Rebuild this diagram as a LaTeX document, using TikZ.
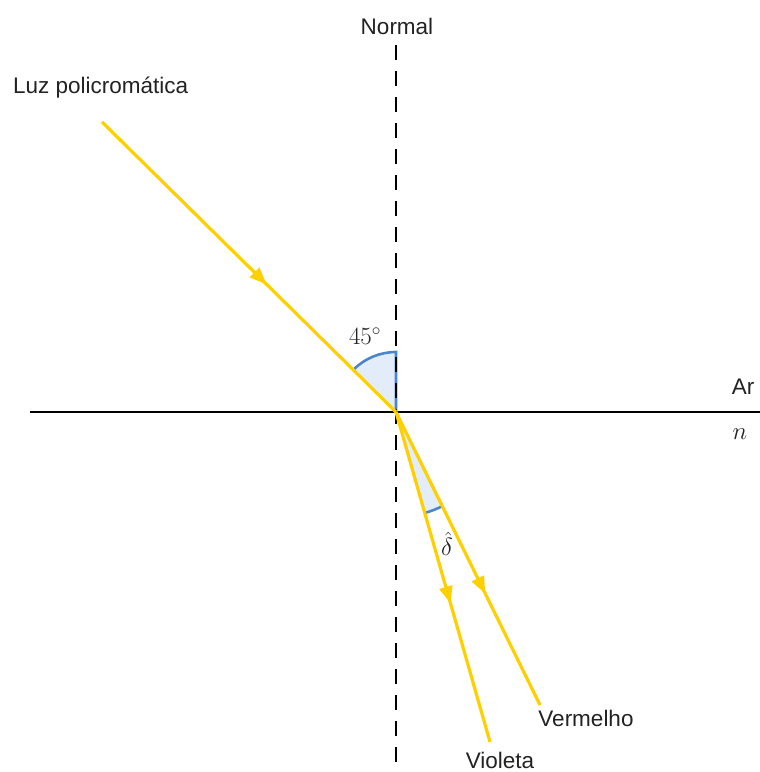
\documentclass[tikz,border=0pt]{standalone}
\usepackage{fontspec}
\setmainfont{Liberation Sans}
\usetikzlibrary{arrows.meta,decorations.markings}
\definecolor{ray}{HTML}{FFD000}
\definecolor{arcblue}{HTML}{4A86CF}
\definecolor{arcfill}{HTML}{E3EDF9}
\definecolor{txt}{HTML}{222222}
\tikzset{
  lbl/.style={font=\fontsize{22.5}{26}\selectfont, inner sep=0pt, text=txt},
  mlbl/.style={font=\fontsize{25}{28}\selectfont, inner sep=0pt, text=txt},
  raypath/.style={draw=ray, line width=3.2pt},
  midarrow/.style={postaction={decorate}, decoration={markings,
      mark=at position #1 with {\arrow{Triangle[length=17pt,width=13pt,fill=ray,color=ray]}}}},
}
\begin{document}
\begin{tikzpicture}[x=1pt,y=1pt]
\useasboundingbox (0,0) rectangle (760,772);
\coordinate (O) at (396,360);
\coordinate (S) at (102,650);
\coordinate (R) at (540,67);
\coordinate (V) at (490,30);
\coordinate (HL) at (30,360);
\coordinate (HR) at (760,360);
\coordinate (NT) at (396,727);
\coordinate (NB) at (396,0);
% angle wedges
\fill[arcfill] (O) -- ++(90:60) arc[start angle=90,end angle=135,radius=60] -- cycle;
\draw[arcblue,line width=2.6pt] (O) -- ++(90:60) arc[start angle=90,end angle=135,radius=60];
\fill[arcfill] (O) -- ++(-74.1:105) arc[start angle=-74.1,end angle=-63.8,radius=105] -- cycle;
\draw[arcblue,line width=2.6pt] (O) ++(-74.1:105) arc[start angle=-74.1,end angle=-63.8,radius=105];
% surface and normal
\draw[line width=2.4pt] (HL) -- (HR);
\draw[line width=2.4pt, dash pattern=on 15pt off 11pt] (NT) -- (NB);
% rays
\path[raypath, midarrow=0.56] (S) -- (O);
\path[raypath, midarrow=0.62] (O) -- (R);
\path[raypath, midarrow=0.58] (O) -- (V);
% labels
\node[lbl, anchor=west] (luz) at (13,684) {Luz policromática};
\node[lbl] (normal) at (397,746) {Normal};
\node[lbl] (ar) at (743,385) {Ar};
\node[mlbl] (n) at (740,338) {$n$};
\node[mlbl] (ang) at (365,436) {$45^\circ$};
\node[mlbl] (delta) at (447,228) {$\hat{\delta}$};
\node[lbl] (verm) at (586,54) {Vermelho};
\node[lbl] (viol) at (500,12) {Violeta};
\end{tikzpicture}
\end{document}
